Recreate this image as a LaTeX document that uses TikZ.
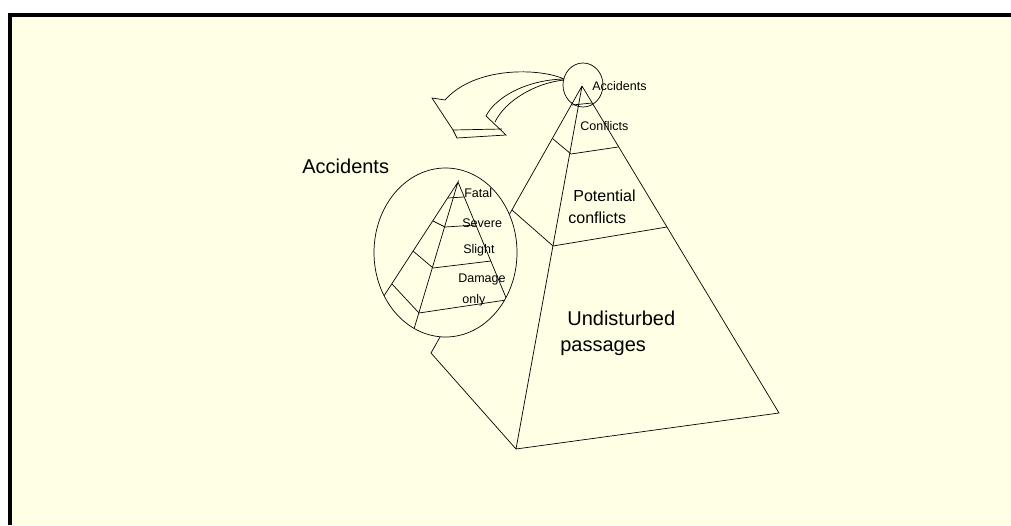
\documentclass[tikz,border=0pt]{standalone}
\usepackage{fontspec}
\setmainfont{Liberation Sans}
\usepackage{tikz}
\definecolor{paper}{RGB}{255,255,230}

\begin{document}
\begin{tikzpicture}[x=1pt, y=-1pt, line width=0.7pt,
  every node/.style={inner sep=0pt, anchor=base west},
  bigtxt/.style={font=\fontsize{20}{24}\selectfont},
  midtxt/.style={font=\fontsize{16}{19}\selectfont},
  smalltxt/.style={font=\fontsize{12.5}{15}\selectfont}]
  \useasboundingbox (0,0) rectangle (1011,525);
  \fill[paper] (10,15) rectangle (1011,525);
  \draw[line width=4pt] (10.3,525) -- (10.3,15.3) -- (1011,15.3);

  \coordinate (top) at (582,86);
  \coordinate (back) at (431,353);
  \coordinate (front) at (516,449);
  \coordinate (right) at (779,413);
  \draw (top) -- (right) -- (front) -- (back) -- (top) (top) -- (front);
  \draw (572,105) -- (592,103);
  \draw (553,139) -- (571,154) -- (618,147);
  \draw (512,210) -- (553,246) -- (667,227);
  \draw (583,85) ellipse [x radius=20, y radius=22];

  \draw (564,79) .. controls (540,68) and (475,66) .. (445,100) -- (432,98)
    -- (453,130) -- (457,138) -- (506,135) -- (486,116)
    .. controls (495,98) and (525,80) .. (564,79);
  \draw (495,122) .. controls (505,101) and (535,83) .. (564,80);
  \draw (453,130) -- (502,129);

  \draw[fill=paper] (445.5,252.5) ellipse [x radius=71.5, y radius=84.5];
  \begin{scope}
    \clip (445.5,252.5) ellipse [x radius=71.5, y radius=84.5];
    \coordinate (apex) at (458,182);
    \draw (365,325) -- (apex) -- (411,339) (apex) -- (507,300);
    \draw (448,198) -- (464,197);
    \draw (433,221) -- (445,227) -- (476,225);
    \draw (413,251) -- (433,268) -- (491,261);
    \draw (392,284) -- (419,313) -- (506,300);
  \end{scope}

  \node[bigtxt] (accbig) at (302,173) {Accidents};
  \node[bigtxt] (undist) at (567,325) {Undisturbed};
  \node[bigtxt] (passg) at (560,351) {passages};
  \node[midtxt] (potent) at (573,201) {Potential};
  \node[midtxt] (potconf) at (568,223) {conflicts};
  \node[smalltxt] (acctop) at (592,90) {Accidents};
  \node[smalltxt] (conf) at (580,130) {Conflicts};
  \node[smalltxt] (fatal) at (464,197) {Fatal};
  \node[smalltxt] (severe) at (462,227) {Severe};
  \node[smalltxt] (slight) at (463,253) {Slight};
  \node[smalltxt] (damage) at (458,282) {Damage};
  \node[smalltxt] (only) at (462,303) {only};
\end{tikzpicture}
\end{document}
